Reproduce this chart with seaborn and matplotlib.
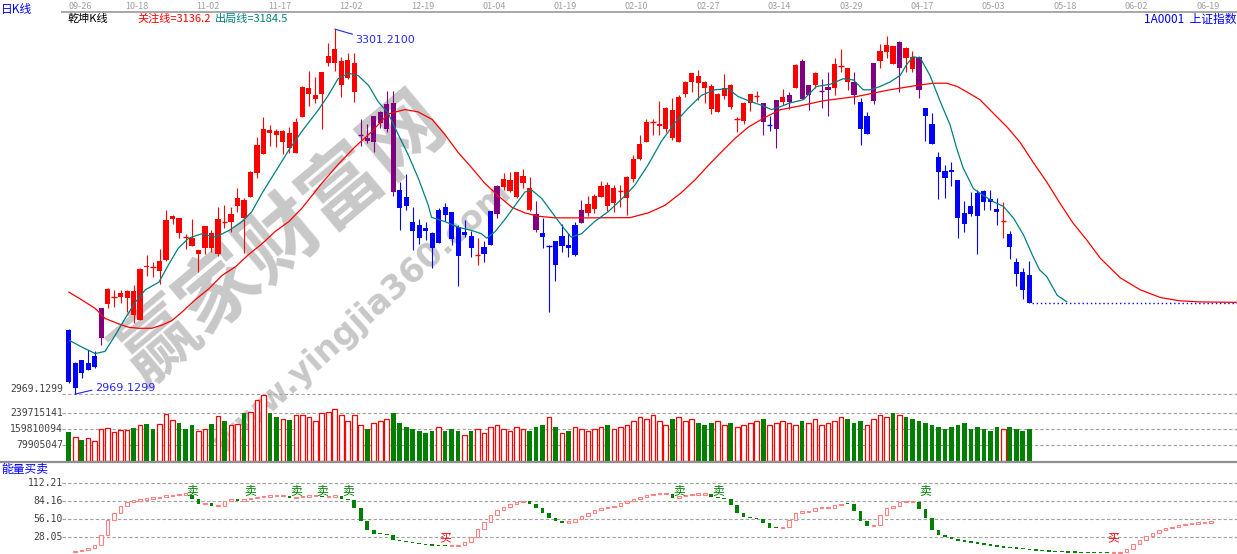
import matplotlib
matplotlib.use("Agg")
import matplotlib.pyplot as plt
import matplotlib.transforms as mtransforms
from matplotlib.lines import Line2D
import numpy as np
import pandas as pd
import seaborn as sns

# ---- daily candles (SSE index) ----
opens = [
    3027.5, 2974.4, 3000.2, 2991.1, 2994.1, 3020.5, 3051.4, 3057.5, 3057.8, 3056.9,
    3063.3, 3036.9, 3086.0, 3085.1, 3081.5, 3091.2, 3128.2, 3129.7, 3112.1, 3110.9,
    3096.9, 3101.8, 3115.4, 3096.9, 3125.4, 3125.4, 3140.6, 3145.8, 3148.8, 3170.0,
    3187.9, 3209.2, 3208.6, 3198.8, 3206.4, 3188.8, 3221.6, 3241.9, 3237.7, 3241.9,
    3270.7, 3270.1, 3250.4, 3257.1, 3244.3, 3204.9, 3201.9, 3198.8, 3215.5, 3210.1,
    3234.0, 3154.9, 3148.8, 3125.8, 3123.0, 3120.6, 3115.7, 3106.9, 3139.4, 3135.2,
    3121.5, 3113.9, 3113.3, 3095.7, 3096.9, 3104.8, 3133.0, 3157.9, 3154.0, 3148.5,
    3161.5, 3157.0, 3132.7, 3115.4, 3103.9, 3108.5, 3104.2, 3104.8, 3095.7, 3125.1,
    3134.2, 3137.9, 3148.5, 3159.4, 3143.3, 3154.0, 3147.9, 3164.9, 3183.1, 3198.8,
    3217.0, 3213.4, 3210.4, 3227.7, 3198.8, 3242.5, 3253.4, 3258.9, 3253.4, 3249.5,
    3226.1, 3240.7, 3250.4, 3219.2, 3218.0, 3233.7, 3240.4, 3234.0, 3214.0, 3210.1,
    3234.6, 3235.2, 3247.4, 3272.2, 3241.3, 3250.4, 3245.3, 3245.9, 3248.0, 3268.0,
    3266.2, 3253.4, 3235.2, 3206.1, 3235.8, 3272.2, 3280.7, 3285.9, 3266.2, 3284.4,
    3276.2, 3275.9, 3229.5, 3214.9, 3184.9, 3172.5, 3173.1, 3164.0, 3133.6, 3140.3,
    3152.4, 3154.0, 3147.0, 3137.6, 3126.4, 3114.8, 3089.4, 3080.3, 3077.5,
]
highs = [
    3028.4, 2998.0, 3000.2, 3009.3, 3008.4, 3047.2, 3065.4, 3063.9, 3063.9, 3063.9,
    3068.4, 3084.2, 3095.7, 3089.0, 3101.2, 3136.7, 3132.1, 3129.7, 3114.5, 3128.5,
    3100.3, 3122.1, 3118.5, 3139.7, 3141.2, 3139.7, 3156.4, 3147.3, 3172.2, 3203.4,
    3221.0, 3214.0, 3210.4, 3209.5, 3211.9, 3220.1, 3249.5, 3263.1, 3258.0, 3261.9,
    3288.3, 3301.21, 3276.2, 3279.2, 3279.2, 3219.2, 3214.6, 3222.2, 3226.7, 3244.9,
    3244.9, 3161.8, 3169.4, 3139.7, 3128.5, 3126.1, 3116.9, 3138.8, 3142.7, 3135.2,
    3123.0, 3127.6, 3117.6, 3110.9, 3108.5, 3135.8, 3159.4, 3170.0, 3171.5, 3171.5,
    3174.0, 3166.7, 3144.9, 3129.7, 3104.8, 3108.5, 3123.6, 3115.4, 3126.1, 3145.8,
    3149.4, 3151.2, 3163.4, 3162.4, 3159.4, 3159.4, 3167.6, 3186.7, 3204.9, 3219.5,
    3219.2, 3235.8, 3230.7, 3238.9, 3241.3, 3254.0, 3261.0, 3264.1, 3254.0, 3251.0,
    3242.8, 3260.1, 3251.0, 3221.6, 3235.2, 3242.2, 3244.9, 3234.0, 3222.5, 3236.5,
    3246.8, 3244.3, 3269.2, 3274.1, 3250.4, 3262.5, 3255.9, 3261.9, 3275.3, 3283.2,
    3266.2, 3261.9, 3238.9, 3225.5, 3270.4, 3287.4, 3295.3, 3285.9, 3290.4, 3285.0,
    3281.3, 3276.8, 3229.5, 3224.9, 3189.7, 3177.6, 3180.6, 3164.0, 3144.9, 3153.4,
    3154.9, 3154.9, 3154.9, 3147.9, 3144.3, 3117.6, 3093.3, 3084.2, 3090.3,
]
lows = [
    2979.0, 2969.1299, 2984.1, 2991.1, 2992.6, 3013.8, 3047.8, 3048.7, 3052.4, 3043.6,
    3033.5, 3036.9, 3076.9, 3076.0, 3069.0, 3090.3, 3123.6, 3110.9, 3101.2, 3104.2,
    3080.6, 3096.3, 3098.8, 3095.1, 3120.0, 3116.9, 3135.2, 3097.2, 3148.8, 3166.1,
    3187.3, 3195.2, 3194.3, 3187.3, 3188.2, 3188.8, 3221.6, 3231.6, 3233.7, 3210.1,
    3268.0, 3263.1, 3239.8, 3255.9, 3235.2, 3195.2, 3197.3, 3189.7, 3211.6, 3207.9,
    3149.7, 3118.5, 3136.7, 3100.3, 3105.7, 3109.4, 3084.2, 3106.9, 3127.0, 3104.8,
    3067.8, 3111.8, 3094.2, 3086.6, 3089.7, 3104.8, 3129.7, 3154.9, 3153.4, 3147.9,
    3157.0, 3135.8, 3116.3, 3102.4, 3044.2, 3072.1, 3098.8, 3094.2, 3095.1, 3125.1,
    3131.5, 3133.6, 3148.5, 3136.1, 3135.2, 3139.7, 3132.1, 3162.4, 3182.2, 3198.8,
    3204.9, 3204.9, 3207.9, 3200.4, 3198.8, 3239.8, 3244.3, 3236.8, 3233.7, 3224.3,
    3226.1, 3237.7, 3228.6, 3207.3, 3214.9, 3227.1, 3235.2, 3204.9, 3208.6, 3193.4,
    3232.2, 3228.3, 3247.4, 3237.7, 3227.7, 3247.4, 3229.8, 3222.5, 3241.3, 3262.5,
    3245.9, 3233.1, 3195.8, 3206.1, 3233.1, 3265.6, 3275.3, 3269.2, 3244.3, 3262.5,
    3262.5, 3238.9, 3199.5, 3197.0, 3146.7, 3147.9, 3158.5, 3111.5, 3116.9, 3131.5,
    3096.6, 3136.7, 3136.7, 3123.0, 3111.5, 3092.1, 3067.8, 3055.7, 3051.7,
]
closes = [
    2979.9, 2997.2, 2988.0, 2997.2, 3003.8, 3047.2, 3064.8, 3057.5, 3061.5, 3063.3,
    3041.1, 3083.0, 3084.5, 3085.1, 3090.3, 3127.6, 3131.2, 3116.0, 3112.1, 3104.2,
    3100.3, 3122.1, 3102.4, 3128.5, 3125.4, 3133.0, 3147.3, 3129.1, 3171.5, 3195.8,
    3210.1, 3207.0, 3204.9, 3208.6, 3193.4, 3217.0, 3248.9, 3248.0, 3241.3, 3261.9,
    3276.8, 3283.2, 3272.2, 3273.2, 3270.1, 3204.9, 3199.8, 3222.2, 3225.5, 3233.1,
    3153.4, 3138.8, 3140.3, 3117.9, 3111.5, 3117.9, 3102.4, 3136.7, 3132.1, 3110.0,
    3095.1, 3116.7, 3102.4, 3095.7, 3103.3, 3135.8, 3158.5, 3164.6, 3164.0, 3171.5,
    3167.9, 3136.7, 3118.8, 3112.4, 3103.9, 3086.6, 3113.0, 3101.8, 3123.0, 3136.7,
    3141.8, 3149.4, 3158.5, 3140.6, 3156.7, 3154.0, 3166.7, 3183.1, 3196.7, 3216.7,
    3217.0, 3214.9, 3229.8, 3202.5, 3239.5, 3253.4, 3261.0, 3251.9, 3247.4, 3228.9,
    3241.9, 3247.4, 3230.7, 3219.2, 3234.0, 3242.2, 3240.4, 3217.0, 3214.0, 3236.5,
    3239.8, 3241.3, 3268.6, 3237.7, 3250.4, 3261.6, 3245.3, 3248.9, 3269.5, 3268.0,
    3253.4, 3241.3, 3210.4, 3222.2, 3270.4, 3281.3, 3286.8, 3269.8, 3289.8, 3274.7,
    3265.0, 3246.2, 3222.5, 3197.0, 3170.9, 3166.1, 3170.9, 3129.7, 3124.2, 3133.3,
    3131.5, 3144.3, 3143.6, 3135.2, 3126.4, 3103.3, 3078.7, 3064.2, 3052.4,
]
# candle colour state of the 乾坤 system: r = red, b = blue, p = purple
candle_state = (
    "bbbbbp"
    "rrrrrrrrrrrrrrrrrrrrrrrrrrrrrrrrrrrrrrr"
    "pppppp"
    "bbbbbbbbbbbb"
    "rbbp"
    "rrrrrp"
    "bbbbbbp"
    "rrrrrrrrrrrrrrrrrrrrrrrrrrr"
    "pbprpr"
    "pprpp"
    "rrrp"
    "bbp"
    "rrrprrp"
    "bbbbbbbbbbbb"
    "rbbbb"
)

# ---- volume, millions of shares; R = red hollow, G = green solid ----
volumes_m = [
    146, 118, 105, 113, 100, 158, 163, 143, 155, 155,
    163, 180, 185, 158, 188, 238, 205, 192, 158, 180,
    150, 158, 185, 225, 200, 180, 188, 242, 247, 308,
    330, 242, 222, 213, 208, 230, 230, 220, 200, 240,
    245, 260, 230, 200, 230, 180, 160, 190, 200, 210,
    240, 190, 170, 160, 150, 140, 150, 170, 150, 160,
    150, 130, 150, 160, 140, 170, 180, 160, 150, 170,
    160, 150, 170, 180, 220, 170, 140, 150, 170, 160,
    150, 160, 170, 180, 160, 170, 180, 200, 220, 210,
    230, 200, 180, 210, 220, 200, 210, 190, 180, 190,
    200, 180, 190, 170, 180, 190, 200, 210, 180, 190,
    200, 190, 180, 200, 190, 210, 180, 190, 200, 220,
    210, 190, 200, 180, 210, 230, 220, 240, 230, 220,
    210, 200, 190, 180, 170, 160, 170, 180, 190, 160,
    170, 160, 150, 170, 160, 170, 160, 150, 160,
]
volume_dir = (
    "GRGRRRRRRR" "GRGGRRRGGG" "RRGRGRRGRR" "RGGRGR"
    "RRRRRRRRRR" "GRRRGGGGGG" "GRGGGRGRRR" "RRRRRGGGRG"
    "RGRRRRRGRR" "RRRRRRRGRR" "RGGGRRGRRR" "RGRRRRRGRR"
    "RRRRGGGRRR" "RGRGGGGGGG" "GGGGGGGGRG" "GGG"
)
vol_levels = [79905047, 159810094, 239715141]

# ---- 关注线 (red) and 出局线 (teal), sampled along the curves ----
red_line_x = [0, 1.7, 4.1, 5.6, 7.7, 9.2, 10.8, 12.8, 14.4, 15.9, 17.5, 19.5, 21.6, 23.6,
              25.7, 27.7, 29.8, 31.8, 33.9, 35.9, 39.0, 41.5, 44.1, 46.7, 49.2, 51.8, 53.8,
              56.0, 58.0, 60.0, 62.1, 64.1, 66.1, 68.3, 70.3, 72.3, 74.9, 80.0, 86.5, 89.3,
              91.9, 94.3, 96.5, 98.5, 100.5, 102.7, 104.7, 107.3, 109.7, 112.4, 116.2, 121.5,
              126.5, 130.7, 133.2, 135.3, 136.9, 138.4, 140.4, 142.4, 144.6, 146.6, 148.6,
              150.7, 152.7, 154.7, 156.9, 158.9, 162.0, 165.1, 168.2, 171.2, 174.3, 180.0]
red_line_y = [3062, 3056, 3047, 3038, 3033, 3030, 3029, 3029, 3032, 3036, 3044, 3055, 3065, 3077,
              3085, 3096, 3106, 3117, 3126, 3138, 3161, 3178, 3194, 3208, 3224, 3228, 3226,
              3219, 3205, 3189, 3175, 3161, 3150, 3139, 3134, 3131, 3129.5, 3129.5, 3129.7, 3134,
              3141, 3152, 3164, 3177, 3189, 3202, 3212, 3221, 3228, 3231, 3236, 3240,
              3246, 3250, 3252, 3252, 3249, 3244, 3237, 3225, 3212, 3198, 3180,
              3162, 3143, 3125, 3109, 3093, 3075, 3064, 3057, 3054, 3053, 3052.6]
teal_line_x = [0.1, 2.0, 4.1, 5.6, 7.2, 8.7, 10.3, 11.8, 13.9, 15.4, 16.9, 18.5, 20.5, 22.6,
               24.7, 26.7, 28.2, 29.8, 31.8, 33.9, 35.9, 38.5, 40.0, 41.5, 43.1, 44.6, 46.2,
               47.7, 49.2, 50.8, 52.3, 53.9, 55.4, 55.9, 58.0, 60.0, 62.1, 63.6, 64.4, 65.7,
               67.2, 68.8, 70.3, 71.3, 72.9, 74.4, 75.9, 77.4, 79.0, 81.0, 83.1, 85.1, 87.2,
               89.3, 91.3, 93.4, 95.4, 97.5, 99.5, 101.6, 103.1, 105.2, 106.7, 108.3, 109.8,
               111.1, 113.2, 115.2, 117.3, 119.3, 120.9, 122.4, 123.5, 125.0, 126.5, 128.1,
               129.1, 130.1, 131.2, 132.7, 134.3, 135.8, 136.8, 137.8, 139.4, 140.9, 142.5,
               144.0, 145.6, 147.1, 148.6, 149.6, 150.7, 152.3, 153.8]
teal_line_y = [3018, 3012, 3006, 3008, 3023, 3038, 3053, 3064, 3071, 3087, 3102, 3111, 3115, 3112,
               3118, 3126, 3135, 3152, 3171, 3191, 3208, 3228, 3241, 3256, 3261, 3259, 3250,
               3235, 3225, 3205, 3187, 3165, 3141, 3130, 3126, 3121, 3118, 3115, 3111, 3117,
               3128, 3141, 3153, 3155, 3147, 3135, 3123, 3112, 3115, 3126, 3135, 3146, 3159,
               3178, 3199, 3216, 3229, 3241, 3246, 3247, 3240, 3235, 3232, 3228, 3231,
               3234, 3237, 3249, 3251, 3256, 3255, 3246, 3246, 3249, 3253, 3259,
               3269, 3276, 3275, 3259, 3235, 3214, 3193, 3175, 3156, 3150, 3144,
               3140, 3129, 3114, 3094, 3082, 3076, 3059, 3053]
attention_value = 3136.2
exit_value = 3184.5

# ---- 能量买卖 indicator ----
energy = [
    4, 5.6, 7.2, 10.9, 15, 31, 54, 66, 76, 83,
    85, 86.5, 88, 89, 91, 92, 93.5, 94, 94.5, 87,
    79, 80.5, 76, 77, 84, 87, 84, 87.5, 88.5, 90,
    91, 91.5, 92, 92.5, 89, 90, 91, 92, 92.5, 90,
    91, 92, 88, 86, 73, 53, 39, 33, 32, 30,
    23, 21, 19, 17.5, 16, 15, 14, 13.5, 13, 13.5,
    15, 19, 28, 40, 52, 62, 70, 75, 79, 82,
    84, 80, 74, 66, 58, 53, 50, 52, 56, 61,
    66, 70, 73, 75, 77, 81, 84, 87.5, 91, 93,
    95, 95.2, 95.5, 89, 92, 93, 94, 94.5, 95, 90,
    88.5, 87, 78, 66, 59, 57, 56, 50, 42, 41,
    44, 55, 66, 66.5, 68.6, 72.8, 73, 74, 78, 80,
    79.5, 69, 53, 45, 46, 62, 74, 76, 82, 82.5,
    83, 72, 57, 39, 30, 27, 25, 22, 20, 18.5,
    17, 15.5, 14, 12.5, 11, 10, 9, 8, 7, 6,
    5, 4.5, 4, 3.5, 3, 2.6, 2.3, 2.1, 2, 1.9,
    1.8, 2.2, 4.5, 9, 16, 23, 29, 34, 38, 41,
    44, 46, 47.5, 48.5, 49.3, 50, 50.5,
]
sell_marks = [19, 28, 35, 39, 43, 94, 100, 132]
buy_marks = [58, 161]
energy_levels = [28.05, 56.10, 84.16, 112.21]

date_labels = ["09-26", "10-18", "11-02", "11-17", "12-02", "12-19", "01-04", "01-19",
               "02-10", "02-27", "03-14", "03-29", "04-17", "05-03", "05-18", "06-02", "06-19"]

# ---------------- style ----------------
sns.set_theme(style="white")
plt.rcParams['font.family'] = ['Noto Sans CJK SC', 'DejaVu Sans']
plt.rcParams['axes.unicode_minus'] = False

W, H = 1237, 554
fig = plt.figure(figsize=(W / 100, H / 100), dpi=100, facecolor='white')


def px_axes(top, bottom, left=62, right=W):
    return fig.add_axes([left / W, 1 - bottom / H, (right - left) / W, (bottom - top) / H])


ax = px_axes(12, 395)
ax_vol = px_axes(395, 461)
ax_en = px_axes(463, 554)
XMIN, XMAX = -1.03, 180.0
for a in (ax, ax_vol, ax_en):
    a.set_facecolor('none')
    for s in a.spines.values():
        s.set_visible(False)
    a.grid(False)
    a.set_yticks([])

# ---------------- price panel ----------------
df = pd.DataFrame(dict(o=opens, h=highs, l=lows, c=closes, s=list(candle_state)))
n = len(df)
idx = np.arange(n)
state_colors = {'r': '#FF0000', 'b': '#0000FF', 'p': '#800080'}
df['col'] = df['s'].map(state_colors)

ax.vlines(idx, df['l'], df['h'], colors=df['col'], lw=0.8, zorder=2)
body_lo = df[['o', 'c']].min(axis=1)
body_h = (df['c'] - df['o']).abs()
ax.bar(idx, body_h, bottom=body_lo, width=0.8, color=df['col'], lw=0, zorder=2)
flat = (body_h < 1.0).to_numpy()
ax.hlines(df.loc[flat, 'c'], idx[flat] - 0.42, idx[flat] + 0.42,
          colors=df.loc[flat, 'col'], lw=1.0, zorder=2)

sns.lineplot(x=red_line_x, y=red_line_y, color='#FF0000', lw=0.9, ax=ax, zorder=3)
sns.lineplot(x=teal_line_x, y=teal_line_y, color='#008080', lw=0.9, ax=ax, zorder=3)

# last close carried forward
ax.hlines(closes[-1], n - 0.6, XMAX, colors='#0000FF', linestyles=(0, (1, 2)), lw=1.0, zorder=1)

imax = int(np.argmax(highs))
imin = int(np.argmin(lows))
ax.annotate(f"{highs[imax]:.4f}", xy=(imax, highs[imax]), xytext=(15, -4.3),
            textcoords='offset points', ha='left', va='top', color='#2828FF',
            fontsize=8, family='DejaVu Sans',
            arrowprops=dict(arrowstyle='-', color='#2020FF', lw=0.8,
                            shrinkA=0, shrinkB=0, relpos=(0, 1)))
ax.annotate(f"{lows[imin]:.4f}", xy=(imin, lows[imin]), xytext=(14.4, 0.5),
            textcoords='offset points', ha='left', va='bottom', color='#2828FF',
            fontsize=8, family='DejaVu Sans',
            arrowprops=dict(arrowstyle='-', color='#2020FF', lw=0.8,
                            shrinkA=0, shrinkB=0, relpos=(0, 0.4)))

ax.set_ylim(2968.3, 3316.8)
ax.set_xlim(XMIN, XMAX)
ax.axhline(lows[imin], color='#A0A0A0', lw=0.8, ls=(0, (3, 2)), zorder=1)
lab_main = mtransforms.blended_transform_factory(fig.transFigure, ax.transData)
ax.text(63 / W, lows[imin], f"{lows[imin]:.4f}", transform=lab_main, ha='right', va='bottom',
        family='DejaVu Sans Mono', fontsize=7, color='#404040')

# date strip on top
tick_pos = [0] + [11 * k - 0.5 for k in range(1, len(date_labels))]
ax.set_xticks(tick_pos)
ax.set_xticklabels(date_labels)
ax.xaxis.tick_top()
ax.tick_params(axis='x', top=True, bottom=False, length=0, pad=1.0,
               labelsize=6.5, labelcolor='#A0A0A0')
ax.get_xticklabels()[0].set_ha('left')
ax.spines['top'].set_visible(True)
ax.spines['top'].set_color('#A8A8A8')
ax.spines['top'].set_linewidth(1.4)

# ---------------- volume panel ----------------
vol = np.array(volumes_m) * 1e6
up = np.array([d == 'R' for d in volume_dir])
ax_vol.bar(idx[up], vol[up], width=0.72, facecolor='white', edgecolor='#FF0000', lw=0.9, zorder=2)
ax_vol.bar(idx[~up], vol[~up], width=0.72, color='#008000', lw=0, zorder=2)
ax_vol.set_ylim(0, 331e6)
ax_vol.set_xlim(XMIN, XMAX)
ax_vol.set_xticks([])
lab_vol = mtransforms.blended_transform_factory(fig.transFigure, ax_vol.transData)
for v in vol_levels:
    ax_vol.axhline(v, color='#A0A0A0', lw=0.8, ls=(0, (3, 2)), zorder=1)
    ax_vol.text(63 / W, v, f"{v}", transform=lab_vol, ha='right', va='center',
                family='DejaVu Sans Mono', fontsize=7, color='#404040')

fig.add_artist(Line2D([0, 1], [1 - 461.8 / H] * 2, color='#909090', lw=1.6))

# ---------------- energy panel ----------------
e = np.array(energy)
ex = np.arange(1, len(e))
prev, cur = e[:-1], e[1:]
rise = cur >= prev
hgt = np.maximum(np.abs(cur - prev), 2.2)
bot = np.minimum(prev, cur)
ax_en.bar(ex[rise], hgt[rise], bottom=bot[rise], width=0.55, facecolor='white',
          edgecolor='#FF8080', lw=0.8, zorder=2)
ax_en.bar(ex[~rise], hgt[~rise], bottom=bot[~rise], width=0.55, color='#008000', lw=0, zorder=2)
for i in sell_marks:
    ax_en.text(i, 100.5, '卖', color='#008000', ha='center', va='center', fontsize=8.5, zorder=3)
for i in buy_marks:
    ax_en.text(i, 26.8, '买', color='#FF0000', ha='center', va='center', fontsize=8.5, zorder=3)
ax_en.set_ylim(0.8, 144.2)
ax_en.set_xlim(XMIN, XMAX)
ax_en.set_xticks([])
lab_en = mtransforms.blended_transform_factory(fig.transFigure, ax_en.transData)
for v in energy_levels:
    ax_en.axhline(v, color='#A0A0A0', lw=0.8, ls=(0, (3, 2)), zorder=1)
    ax_en.text(63 / W, v, f"{v:.2f}", transform=lab_en, ha='right', va='center',
               family='DejaVu Sans Mono', fontsize=7, color='#404040')

# ---------------- header texts ----------------
fig.text(1 / W, 1 - 10 / H, '日K线', color='#0000FF', fontsize=8.5, va='center', ha='left')
fig.text(68 / W, 1 - 19 / H, '乾坤K线', color='black', fontsize=8, va='center')
fig.text(137 / W, 1 - 19 / H, f'关注线={attention_value}', color='#FF0000', fontsize=8, va='center')
fig.text(215 / W, 1 - 19 / H, f'出局线={exit_value}', color='#008080', fontsize=8, va='center')
fig.text(1236 / W, 1 - 19 / H, '1A0001  上证指数', color='#0000FF', fontsize=8.5, va='center', ha='right')
fig.text(1 / W, 1 - 469 / H, '能量买卖', color='#0000FF', fontsize=8.5, va='center', ha='left')

# watermark
fig.text(282 / W, 1 - 240 / H, '赢家财富网', rotation=40, fontsize=58, color='#C8C8C8',
         fontweight='bold', ha='center', va='center', zorder=-5)
fig.text(362 / W, 1 - 318 / H, 'www.yingjia360.com', rotation=42, fontsize=24, color='#C8C8C8',
         fontweight='bold', ha='center', va='center', zorder=-5, family='DejaVu Sans')

fig.savefig('out.png', dpi=100, facecolor='white')
